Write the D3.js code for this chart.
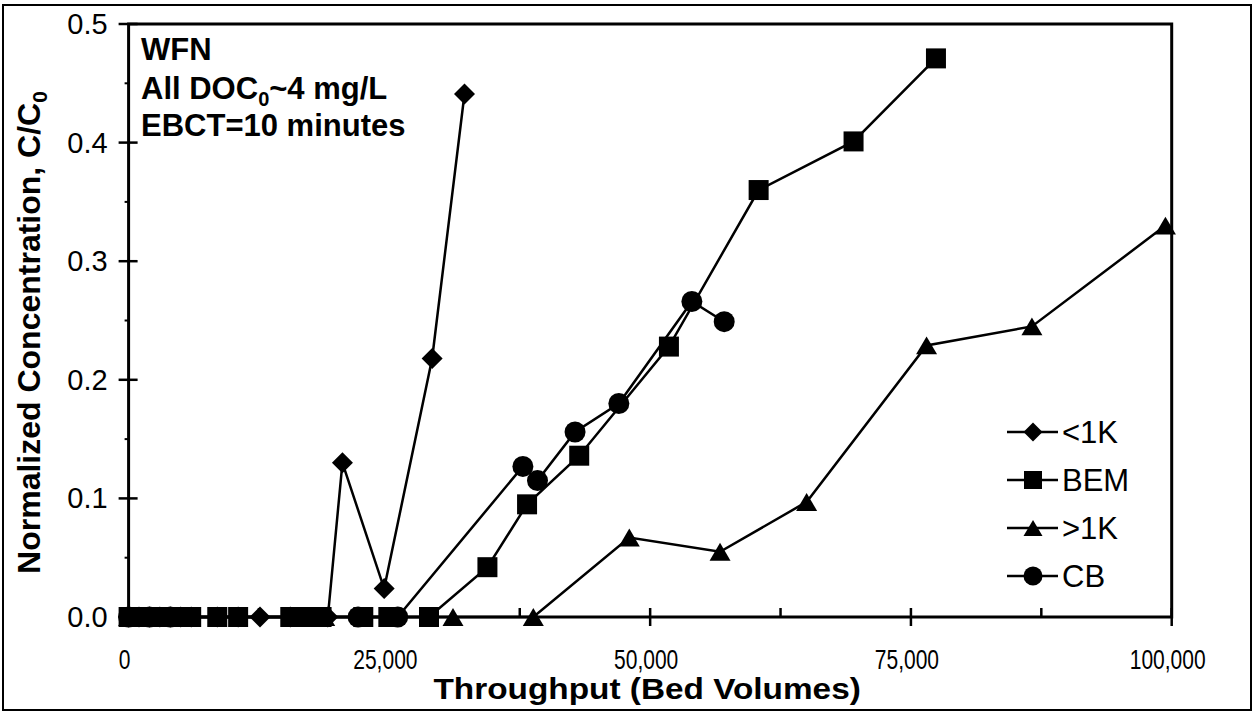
<!DOCTYPE html>
<html>
<head>
<meta charset="utf-8">
<script src="https://cdn.jsdelivr.net/npm/d3@7"></script>
<style>
  body { margin: 0; background: #fff; }
  svg { display: block; }
  text { font-family: "Liberation Sans", Arial, sans-serif; fill: #000; }
</style>
</head>
<body>
<svg id="chart" width="1253" height="715"></svg>
<script>
// Breakthrough data: throughput (bed volumes) vs normalized concentration C/C0
const seriesNames = ["<1K", "BEM", ">1K", "CB"];
const lt1kX = [0, 1000, 2000, 3000, 4000, 5000, 6000, 8500, 10500, 12600, 15500, 19100, 20500, 24500, 29100, 32200];
const lt1kY = [0, 0, 0, 0, 0, 0, 0, 0, 0, 0, 0, 0, 0.130, 0.024, 0.218, 0.441];
const bemX = [0, 1500, 3000, 4500, 6000, 8500, 10500, 15500, 17000, 18500, 22500, 24900, 28800, 34400, 38200, 43200, 51800, 60400, 69500, 77400];
const bemY = [0, 0, 0, 0, 0, 0, 0, 0, 0, 0, 0, 0, 0, 0.042, 0.095, 0.136, 0.228, 0.360, 0.401, 0.471];
const gt1kX = [0, 2500, 5000, 17500, 18800, 31100, 38800, 48000, 56700, 65000, 76500, 86600, 99400];
const gt1kY = [0, 0, 0, 0, 0, 0, 0, 0.067, 0.055, 0.097, 0.229, 0.245, 0.330];
const cbX = [0, 2000, 4000, 22000, 25800, 37800, 39200, 42800, 47000, 54000, 57100];
const cbY = [0, 0, 0, 0, 0, 0.127, 0.115, 0.156, 0.180, 0.266, 0.249];

const xTicks = [0, 25000, 50000, 75000, 100000];
const xMinorTicks = [12500, 37500, 62500, 87500];
const yTicks = [0, 0.1, 0.2, 0.3, 0.4, 0.5];
const yMinorTicks = [0.05, 0.15, 0.25, 0.35, 0.45];
const noteLines = ["WFN", "All DOC|0|~4 mg/L", "EBCT=10 minutes"];

const svg = d3.select("#chart");
const W = 1253, H = 715;
const plot = { left: 128.6, right: 1171.7, top: 24, bottom: 617 };

const x = d3.scaleLinear().domain([0, 100000]).range([plot.left, plot.right]);
const y = d3.scaleLinear().domain([0, 0.5]).range([plot.bottom, plot.top]);

// outer frame
svg.append("rect").attr("x", 3).attr("y", 5).attr("width", W - 5).attr("height", H - 10)
  .attr("fill", "#fff").attr("stroke", "#000").attr("stroke-width", 2);

// plot box
svg.append("rect").attr("x", plot.left).attr("y", plot.top)
  .attr("width", plot.right - plot.left).attr("height", plot.bottom - plot.top)
  .attr("fill", "none").attr("stroke", "#000").attr("stroke-width", 3);

// x axis: major ticks cross the axis, minor ticks point inward
const fmtX = d3.format(",");
const gx = svg.append("g").attr("transform", `translate(0,${plot.bottom})`);
gx.selectAll("line.major").data(xTicks).join("line")
  .attr("x1", d => x(d)).attr("x2", d => x(d)).attr("y1", -9).attr("y2", 9)
  .attr("stroke", "#000").attr("stroke-width", 2.5);
gx.selectAll("line.minor").data(xMinorTicks).join("line")
  .attr("x1", d => x(d)).attr("x2", d => x(d)).attr("y1", -9).attr("y2", 0)
  .attr("stroke", "#000").attr("stroke-width", 2.5);
// tick labels are set in a narrow (horizontally condensed) face
gx.selectAll("text").data(xTicks).join("text")
  .attr("transform", d => `translate(${x(d) - 4},52) scale(0.75,1)`)
  .attr("text-anchor", "middle")
  .style("font-size", "28px").text(d => fmtX(d));

// y axis: major ticks cross, minor ticks outside
const gy = svg.append("g").attr("transform", `translate(${plot.left},0)`);
gy.selectAll("line.major").data(yTicks).join("line")
  .attr("x1", -10).attr("x2", 9).attr("y1", d => y(d)).attr("y2", d => y(d))
  .attr("stroke", "#000").attr("stroke-width", 2.5);
gy.selectAll("line.minor").data(yMinorTicks).join("line")
  .attr("x1", -4).attr("x2", 0).attr("y1", d => y(d)).attr("y2", d => y(d))
  .attr("stroke", "#000").attr("stroke-width", 2);
gy.selectAll("text").data(yTicks).join("text")
  .attr("x", -21).attr("y", d => y(d) + 10).attr("text-anchor", "end")
  .style("font-size", "29px").text(d => d3.format(".1f")(d));

// axis titles
svg.append("text")
  .attr("transform", `translate(${(plot.left + plot.right) / 2 - 3},699) scale(1.15,1)`)
  .attr("text-anchor", "middle").style("font-size", "29px").style("font-weight", "bold")
  .text("Throughput (Bed Volumes)");
const yt = svg.append("text")
  .attr("transform", `translate(40,${(plot.top + plot.bottom) / 2 + 12}) rotate(-90)`)
  .attr("text-anchor", "middle").style("font-size", "32px").style("font-weight", "bold");
yt.append("tspan").text("Normalized Concentration, C/C");
yt.append("tspan").attr("dy", 7).style("font-size", "21px").text("0");

// annotation
const note = svg.append("text").style("font-size", "31px").style("font-weight", "bold");
const noteY = [60, 99, 136];
noteLines.forEach((line, i) => {
  const parts = line.split("|");
  note.append("tspan").attr("x", 141).attr("y", noteY[i]).text(parts[0]);
  if (parts.length > 1) {
    note.append("tspan").attr("dy", 7).style("font-size", "20px").text(parts[1]);
    note.append("tspan").attr("dy", -7).text(parts[2]);
  }
});

// marker shapes
const markers = {
  diamond: s => `M0,${-s}L${s},0L0,${s}L${-s},0Z`,
  square: s => `M${-s},${-s}H${s}V${s}H${-s}Z`,
  triangle: s => `M0,${-s * 0.85}L${s},${s * 0.85}L${-s},${s * 0.85}Z`,
  circle: s => `M${s},0A${s},${s} 0 1,1 ${-s},0A${s},${s} 0 1,1 ${s},0Z`
};
const series = [
  { name: seriesNames[0], xs: lt1kX, ys: lt1kY, shape: "diamond", size: 10.5 },
  { name: seriesNames[1], xs: bemX, ys: bemY, shape: "square", size: 10 },
  { name: seriesNames[2], xs: gt1kX, ys: gt1kY, shape: "triangle", size: 10.5 },
  { name: seriesNames[3], xs: cbX, ys: cbY, shape: "circle", size: 10.5 }
];

const line = d3.line().x(d => x(d[0])).y(d => y(d[1]));
const gData = svg.append("g");
series.forEach(s => {
  const pts = s.xs.map((v, i) => [v, s.ys[i]]);
  gData.append("path").datum(pts).attr("d", line)
    .attr("fill", "none").attr("stroke", "#000").attr("stroke-width", 2.5);
  gData.selectAll(null).data(pts).join("path")
    .attr("transform", d => `translate(${x(d[0])},${y(d[1])})`)
    .attr("d", markers[s.shape](s.size)).attr("fill", "#000");
});

// legend
const lg = svg.append("g").attr("transform", "translate(1007,432)");
series.forEach((s, i) => {
  const row = lg.append("g").attr("transform", `translate(0,${i * 48})`);
  row.append("line").attr("x1", 0).attr("x2", 51).attr("y1", 0).attr("y2", 0)
    .attr("stroke", "#000").attr("stroke-width", 2.5);
  row.append("path").attr("transform", "translate(26,0)")
    .attr("d", markers[s.shape](s.size - 1)).attr("fill", "#000");
  row.append("text").attr("x", 55).attr("y", 11).style("font-size", "31px").text(s.name);
});
</script>
</body>
</html>
